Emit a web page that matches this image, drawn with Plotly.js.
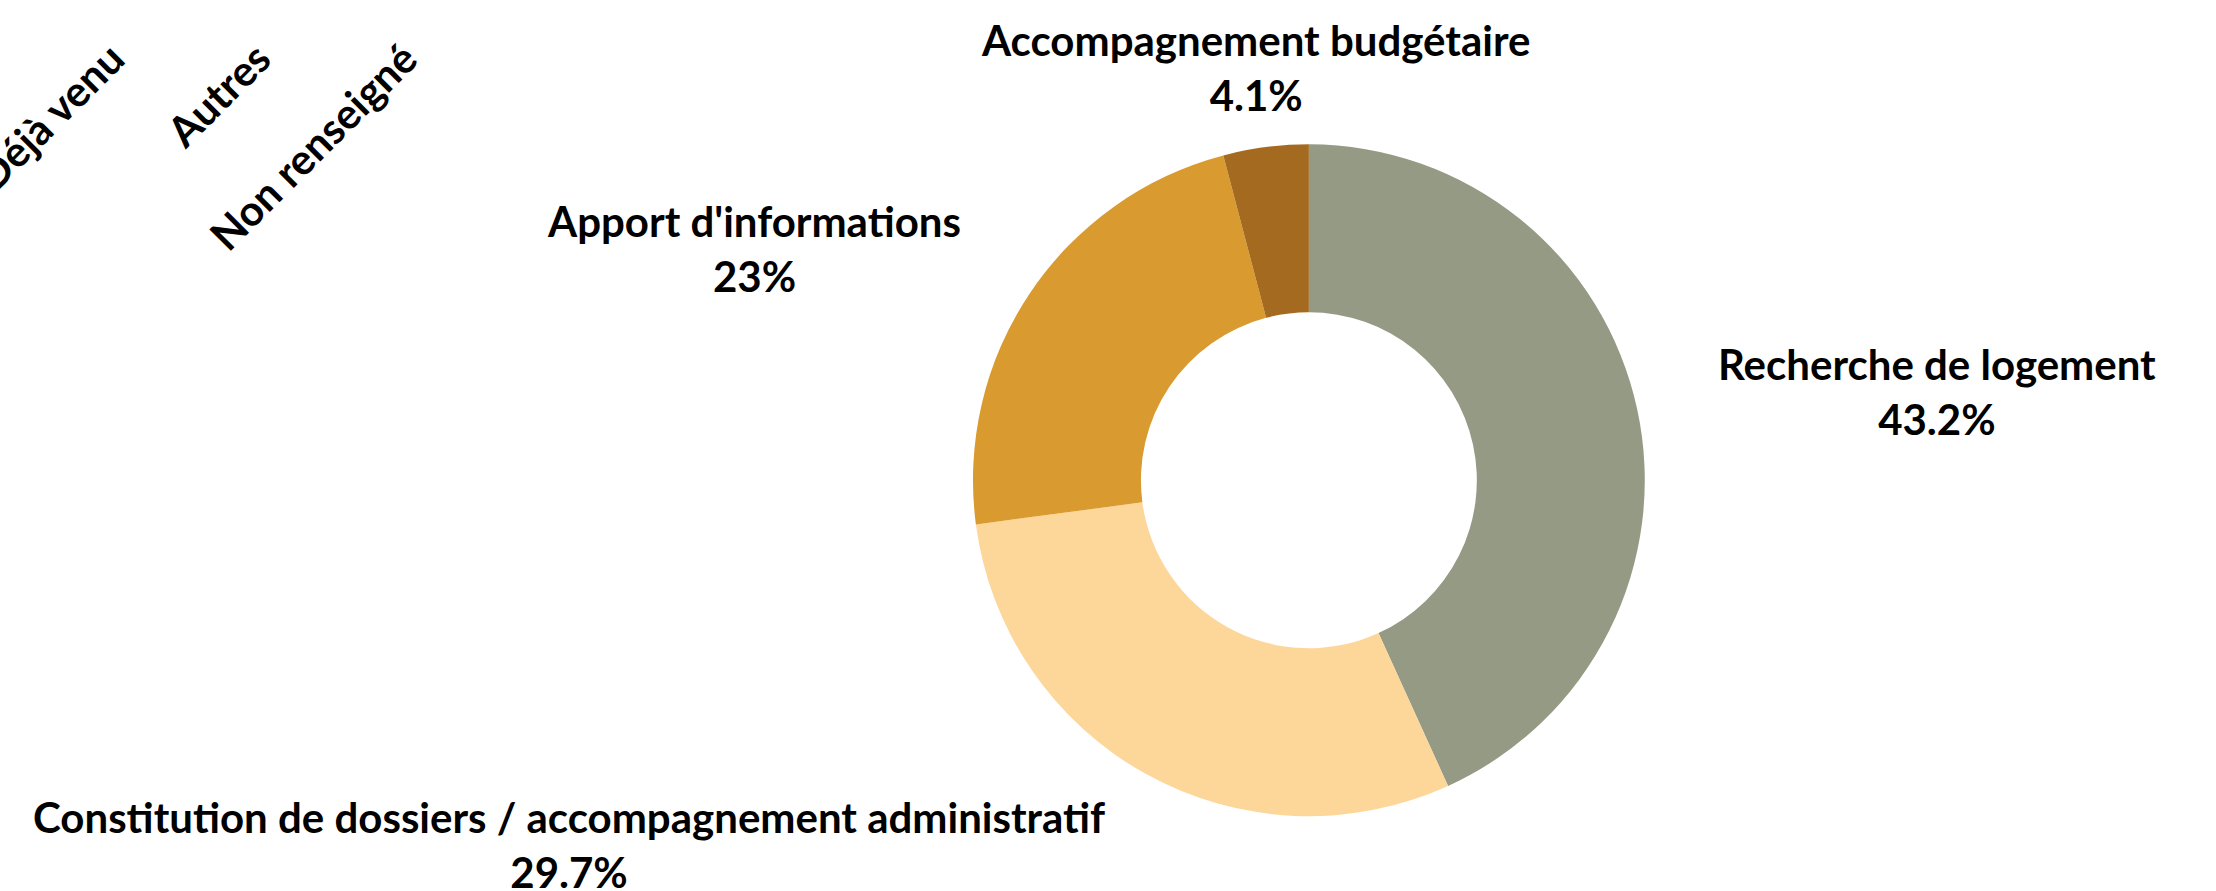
<!DOCTYPE html>
<html>
<head>
<meta charset="utf-8">
<script src="https://cdn.plot.ly/plotly-3.0.1.min.js"></script>
<style>html,body{margin:0;padding:0;background:#fff;}#chart{width:2216px;height:891px;}</style>
</head>
<body>
<div id="chart"></div>
<script>
const sliceLabels = ["Recherche de logement", "Constitution de dossiers / accompagnement administratif", "Apport d'informations", "Accompagnement budgétaire"];
const sliceValues = [43.2, 29.7, 23, 4.1];
const sliceColors = ["#959a84", "#fdd699", "#d99a2f", "#a46b20"];
const axisCategories = ["Déjà venu", "Autres", "Non renseigné"];

const FONT = "Lato, 'Open Sans', sans-serif";
const W = 2216, H = 891;
const pieDomain = {x: [0.439, 0.7423], y: [0.084, 0.838]};

// Outside labels computed from the slice values (mid-angle of each slice)
const total = sliceValues.reduce((a, b) => a + b, 0);
const annotations = [];
{
  const cx = (pieDomain.x[0] + pieDomain.x[1]) / 2 * W;
  const cy = (1 - (pieDomain.y[0] + pieDomain.y[1]) / 2) * H;
  const r = Math.min((pieDomain.x[1] - pieDomain.x[0]) * W, (pieDomain.y[1] - pieDomain.y[0]) * H) / 2;
  const rl = r * 1.24;
  let cum = 0;
  sliceValues.forEach((v, i) => {
    const mid = (cum + v / 2) / total * 2 * Math.PI;
    cum += v;
    const s = Math.sin(mid), c = Math.cos(mid);
    const px = cx + rl * s, py = cy - rl * c;
    const pct = parseFloat((v / total * 100).toPrecision(3));
    annotations.push({
      xref: "paper", yref: "paper",
      x: px / W, y: 1 - py / H,
      xanchor: Math.abs(s) < 0.25 ? "center" : (s > 0 ? "left" : "right"),
      yanchor: "middle",
      align: "center",
      showarrow: false,
      text: sliceLabels[i] + "<br>" + pct + "%",
      font: {family: FONT, size: 42, color: "#000", weight: "bold"}
    });
  });
}

const data = [
  {
    type: "pie",
    labels: sliceLabels,
    values: sliceValues,
    marker: {colors: sliceColors, line: {width: 0}},
    hole: 0.5,
    sort: false,
    direction: "clockwise",
    rotation: 0,
    textinfo: "none",
    showlegend: false,
    domain: pieDomain
  },
  {
    type: "scatter",
    x: axisCategories,
    y: axisCategories.map(() => null),
    mode: "markers",
    marker: {opacity: 0},
    hoverinfo: "skip",
    showlegend: false
  }
];

const layout = {
  width: W,
  height: H,
  margin: {l: 0, r: 0, t: 0, b: 0},
  paper_bgcolor: "#fff",
  plot_bgcolor: "rgba(0,0,0,0)",
  showlegend: false,
  annotations: annotations,
  xaxis: {
    type: "category",
    range: [-0.765, 14.36],
    tickangle: -45,
    showgrid: false,
    zeroline: false,
    showline: false,
    ticks: "",
    tickfont: {family: FONT, size: 42, color: "#000", weight: "bold"},
    domain: [0, 1],
    fixedrange: true
  },
  yaxis: {
    domain: [0.972, 1],
    visible: false,
    fixedrange: true
  }
};

Plotly.newPlot("chart", data, layout, {displayModeBar: false, staticPlot: true});
</script>
</body>
</html>
